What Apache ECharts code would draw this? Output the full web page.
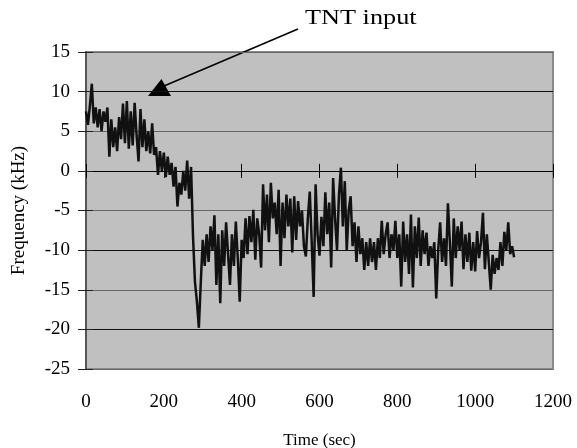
<!DOCTYPE html>
<html>
<head>
<meta charset="utf-8">
<script src="https://cdn.jsdelivr.net/npm/echarts@6/dist/echarts.min.js"></script>
<style>
html, body { margin: 0; padding: 0; background: #fff; }
#chart { width: 577px; height: 448px; }
</style>
</head>
<body>
<div id="chart"></div>
<script>
// sampling step of the trace (sec)
var step = 5;

// frequency shift (kHz), one value every 5 s
var freq = [
    // 0 - 95
    7.5, 5.8, 8.2, 11.0, 6.0, 8.0, 5.5, 7.8, 5.0, 7.5, 6.2, 8.0, 1.8, 6.5, 3.0, 5.5, 2.5, 6.8, 4.0, 8.5,
    // 100 - 195
    3.5, 8.8, 2.8, 7.5, 3.2, 8.6, 4.5, 1.2, 7.8, 3.0, 6.5, 2.5, 5.0, 2.2, 6.0, 2.0, 3.0, -0.5, 2.5, 0.0,
    // 200 - 295
    2.3, -0.8, 1.8, -0.5, 1.0, -2.0, 0.5, -4.5, -1.5, -3.0, 0.0, -2.5, 1.3, -3.5, 0.5, -8.3, -14.0, -16.5, -19.8, -14.0,
    // 300 - 395
    -8.7, -12.0, -8.0, -11.5, -7.0, -10.0, -5.6, -14.4, -8.0, -16.7, -7.5, -12.0, -6.5, -10.5, -14.4, -8.0, -12.0, -6.4, -11.0, -16.5,
    // 400 - 495
    -8.7, -11.0, -6.0, -10.5, -5.7, -9.0, -4.9, -11.2, -6.0, -8.0, -12.2, -1.7, -7.5, -3.0, -9.0, -1.5, -6.0, -4.0, -8.0, -2.4,
    // 500 - 595
    -12.0, -4.0, -8.5, -3.0, -7.0, -3.5, -10.3, -3.2, -8.7, -3.8, -7.0, -5.0, -9.5, -10.8, -6.0, -2.6, -9.0, -15.9, -1.7, -8.0,
    // 600 - 695
    -10.7, -5.8, -9.5, -2.7, -8.0, -4.0, -12.2, -0.9, -6.0, -10.0, -3.0, 0.4, -7.0, -1.3, -10.0, -5.0, -3.2, -9.5, -6.5, -11.5,
    // 700 - 795
    -7.0, -10.5, -8.5, -12.5, -9.0, -12.0, -8.5, -11.5, -9.0, -12.5, -8.5, -11.0, -6.3, -10.5, -8.0, -6.5, -11.0, -8.0, -10.0, -6.3,
    // 800 - 895
    -11.0, -8.0, -14.6, -6.4, -11.5, -8.0, -13.0, -5.5, -14.7, -7.0, -11.0, -5.9, -12.0, -7.5, -10.5, -7.8, -12.0, -9.5, -11.0, -9.0,
    // 900 - 995
    -16.1, -10.0, -6.5, -11.5, -8.5, -12.0, -4.1, -9.0, -14.6, -6.0, -11.0, -7.0, -10.0, -6.4, -12.4, -8.0, -11.5, -7.8, -12.6, -9.0,
    // 1000 - 1100
    -12.7, -7.6, -11.0, -9.0, -5.3, -12.4, -8.0, -11.5, -15.0, -10.6, -13.0, -11.0, -12.5, -9.0, -12.0, -7.7, -10.0, -6.5, -10.5, -9.5, -10.9
];

// axis ranges [min, max, interval]
var timeAxis = [0, 1200, 200];
var freqAxis = [-25, 15, 5];

var serif = '"Liberation Serif", "Times New Roman", serif';

var points = [];
for (var i = 0; i < freq.length; i++) {
    points.push([i * step, freq[i]]);
}

var chart = echarts.init(document.getElementById('chart'));

// x axis drawn on the zero line, ticks crossing it
function zeroAxis(pos) {
    return {
        type: 'value', position: pos,
        min: timeAxis[0], max: timeAxis[1], interval: timeAxis[2],
        axisLine: {show: true, onZero: true, lineStyle: {color: '#000', width: 1}},
        axisTick: {show: true, length: 7, lineStyle: {color: '#000', width: 1}},
        axisLabel: {show: false},
        splitLine: {show: false}
    };
}

var option = {
    animation: false,
    backgroundColor: '#fff',
    grid: {
        left: 86, top: 52, right: 24, bottom: 79,
        show: true,
        backgroundColor: '#c0c0c0',
        borderColor: '#8a8a8a',
        borderWidth: 2,
        outerBoundsMode: 'none'
    },
    xAxis: [{
        type: 'value', position: 'bottom',
        min: timeAxis[0], max: timeAxis[1], interval: timeAxis[2],
        axisLine: {show: false, onZero: false},
        axisTick: {show: false},
        splitLine: {show: false},
        axisLabel: {
            margin: 24, color: '#000', fontSize: 19, fontFamily: serif,
            formatter: function (v) { return String(v); }
        },
        name: 'Time (sec)', nameLocation: 'middle', nameGap: 63,
        nameTextStyle: {color: '#000', fontSize: 17, fontFamily: serif}
    }, zeroAxis('bottom'), zeroAxis('top')],
    yAxis: [{
        type: 'value', position: 'left',
        min: freqAxis[0], max: freqAxis[1], interval: freqAxis[2],
        axisLine: {show: true, lineStyle: {color: '#555', width: 2}},
        axisTick: {show: true, length: 8, lineStyle: {color: '#222', width: 1}},
        axisLabel: {margin: 16, color: '#000', fontSize: 19, fontFamily: serif},
        splitLine: {show: true, lineStyle: {color: ['#666', '#111'], width: 1}},
        name: 'Frequency (kHz)', nameLocation: 'middle', nameGap: 57, nameRotate: 90,
        nameTextStyle: {color: '#000', fontSize: 19, fontFamily: serif}
    }, {
        type: 'value', position: 'left',
        min: freqAxis[0], max: freqAxis[1], interval: freqAxis[2],
        axisLine: {show: false},
        axisTick: {show: true, inside: true, length: 7, lineStyle: {color: '#222', width: 1}},
        axisLabel: {show: false},
        splitLine: {show: false}
    }],
    series: [{
        type: 'line',
        data: points,
        showSymbol: false,
        lineStyle: {color: '#111', width: 2.5},
        z: 5
    }],
    graphic: [{
        type: 'text', x: 305, y: 8, scaleX: 1.25,
        style: {text: 'TNT input', fill: '#000', fontSize: 21, fontFamily: serif, textBaseline: 'top'}
    }, {
        type: 'line',
        shape: {x1: 298, y1: 29, x2: 164, y2: 86},
        style: {stroke: '#000', lineWidth: 1.5}
    }, {
        type: 'polygon',
        shape: {points: [[161.5, 79], [148, 96], [171, 96]]},
        style: {fill: '#000'}
    }]
};

chart.setOption(option);
</script>
</body>
</html>
